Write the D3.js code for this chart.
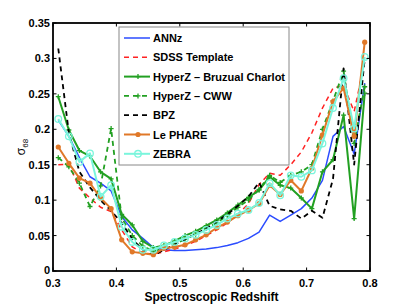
<!DOCTYPE html>
<html><head><meta charset="utf-8">
<script src="https://cdn.jsdelivr.net/npm/d3@7"></script>
<style>
body{margin:0;background:#fff;}
text{font-family:"Liberation Sans",Arial,sans-serif;}
</style></head>
<body><svg id="c" width="409" height="307"></svg>
<script>
// bin centres (30 bins of width 1/60 between 0.3 and 0.8)
const redshift = d3.range(30).map(i => 0.3 + (i + 0.5) / 60);
const annz     = [0.213,0.19,0.16,0.133,0.124,0.113,0.077,0.058,0.046,0.033,0.03,0.029,0.029,0.03,0.031,0.033,0.036,0.04,0.046,0.055,0.079,0.07,0.079,0.088,0.103,0.128,0.19,0.204,0.165,0.265];
const sdss     = [0.15,0.151,0.117,0.103,0.09,0.084,0.058,0.034,0.025,0.024,0.027,0.031,0.036,0.042,0.05,0.058,0.068,0.08,0.095,0.122,0.138,0.135,0.15,0.168,0.195,0.23,0.258,0.262,0.225,0.295];
const hyperzBC = [0.246,0.199,0.17,0.162,0.14,0.13,0.08,0.065,0.042,0.033,0.036,0.042,0.05,0.056,0.064,0.072,0.082,0.093,0.104,0.114,0.133,0.121,0.117,0.103,0.088,0.14,0.157,0.22,0.074,0.251];
const hyperzCWW= [0.16,0.147,0.124,0.091,0.12,0.201,0.075,0.05,0.035,0.028,0.032,0.038,0.045,0.052,0.06,0.068,0.078,0.09,0.1,0.115,0.135,0.125,0.135,0.14,0.15,0.2,0.24,0.282,0.18,0.26];
const bpz      = [0.314,0.195,0.14,0.118,0.1,0.085,0.068,0.045,0.03,0.022,0.03,0.037,0.045,0.052,0.06,0.07,0.08,0.092,0.105,0.125,0.092,0.087,0.085,0.074,0.085,0.075,0.13,0.286,0.15,0.3];
const lephare  = [0.175,0.152,0.131,0.124,0.103,0.088,0.044,0.027,0.025,0.023,0.032,0.034,0.037,0.044,0.051,0.061,0.069,0.078,0.086,0.095,0.121,0.108,0.128,0.113,0.145,0.192,0.239,0.258,0.19,0.323];
const zebra    = [0.2145,0.19,0.154,0.166,0.105,0.121,0.0625,0.041,0.03,0.03,0.036,0.041,0.046,0.051,0.058,0.065,0.074,0.081,0.086,0.096,0.124,0.107,0.135,0.133,0.142,0.18,0.23,0.272,0.201,0.302];
const seriesNames = ["ANNz","SDSS Template","HyperZ \u2013 Bruzual Charlot","HyperZ \u2013 CWW","BPZ","Le PHARE","ZEBRA"];
const xTicks = [0.3,0.4,0.5,0.6,0.7,0.8];
const yTicks = [0,0.05,0.1,0.15,0.2,0.25,0.3,0.35];

const styles = [
  {color:"#2b4cff", width:1.5, dash:null, marker:null},
  {color:"#ff2222", width:1.5, dash:"5,4", marker:null},
  {color:"#22a022", width:2, dash:null, marker:"plus"},
  {color:"#22a022", width:1.8, dash:"5,4", marker:"plus"},
  {color:"#000000", width:1.8, dash:"5,4", marker:null},
  {color:"#e07828", width:2, dash:null, marker:"dot"},
  {color:"#7af5dc", width:2, dash:null, marker:"ring"}
];
const data = [annz,sdss,hyperzBC,hyperzCWW,bpz,lephare,zebra];

const svg = d3.select("#c");
const L=53,R=370,T=23,B=271;
const x = d3.scaleLinear().domain([0.3,0.8]).range([L,R]);
const y = d3.scaleLinear().domain([0,0.35]).range([B,T]);

function drawMarker(g, kind, cx, cy, color){
  if(kind==="plus"){
    g.append("path").attr("d",`M${cx-2.5},${cy}H${cx+2.5}M${cx},${cy-2.5}V${cy+2.5}`)
     .attr("stroke",color).attr("stroke-width",1.3).attr("fill","none");
  } else if(kind==="dot"){
    g.append("circle").attr("cx",cx).attr("cy",cy).attr("r",2.6).attr("fill",color);
  } else if(kind==="ring"){
    g.append("circle").attr("cx",cx).attr("cy",cy).attr("r",3.3).attr("fill","none")
     .attr("stroke",color).attr("stroke-width",1.3);
  }
}

const line = d3.line().x((d,i)=>x(redshift[i])).y(d=>y(d));
const plotG = svg.append("g");
data.forEach((vals,k)=>{
  const s=styles[k];
  plotG.append("path").datum(vals).attr("d",line).attr("fill","none")
    .attr("stroke",s.color).attr("stroke-width",s.width)
    .attr("stroke-dasharray",s.dash).attr("stroke-linejoin","round");
  if(s.marker){
    vals.forEach((v,i)=>drawMarker(plotG,s.marker,x(redshift[i]),y(v),s.color));
  }
});

// axes
const tl = 3.5;
const ax = svg.append("g");
ax.append("rect").attr("x",L).attr("y",T).attr("width",R-L).attr("height",B-T)
  .attr("fill","none").attr("stroke","#000").attr("stroke-width",1.8);
xTicks.forEach(t=>{
  const px=x(t);
  ax.append("line").attr("x1",px).attr("x2",px).attr("y1",B).attr("y2",B-tl).attr("stroke","#000").attr("stroke-width",1);
  ax.append("line").attr("x1",px).attr("x2",px).attr("y1",T).attr("y2",T+tl).attr("stroke","#000").attr("stroke-width",1);
  ax.append("text").attr("x",px).attr("y",B+16).attr("text-anchor","middle")
    .attr("font-size",11).attr("font-weight","bold").text(String(t));
});
yTicks.forEach(t=>{
  const py=y(t);
  ax.append("line").attr("x1",L).attr("x2",L+tl).attr("y1",py).attr("y2",py).attr("stroke","#000").attr("stroke-width",1);
  ax.append("line").attr("x1",R).attr("x2",R-tl).attr("y1",py).attr("y2",py).attr("stroke","#000").attr("stroke-width",1);
  ax.append("text").attr("x",L-3).attr("y",py+(t===0?2.5:4)).attr("text-anchor","end")
    .attr("font-size",11).attr("font-weight","bold").text(String(t));
});
ax.append("text").attr("x",(L+R)/2).attr("y",301).attr("text-anchor","middle")
  .attr("font-size",12).attr("font-weight","bold").text("Spectroscopic Redshift");
const yl = ax.append("text").attr("transform","translate(25,147) rotate(-90)")
  .attr("text-anchor","middle").attr("font-size",12);
yl.append("tspan").text("\u03c3");
yl.append("tspan").attr("font-size",8).attr("dy",3).text("68");

// legend
const lg = svg.append("g");
const lx=119, ly=27, lw=170, lh=138;
lg.append("rect").attr("x",lx).attr("y",ly).attr("width",lw).attr("height",lh)
  .attr("fill","#fff").attr("stroke","#888").attr("stroke-width",1);
seriesNames.forEach((n,k)=>{
  const s=styles[k];
  const cy = 38 + k*19.3;
  lg.append("line").attr("x1",124).attr("x2",150).attr("y1",cy).attr("y2",cy)
    .attr("stroke",s.color).attr("stroke-width",s.width).attr("stroke-dasharray",s.dash);
  if(s.marker) drawMarker(lg,s.marker,138,cy,s.color);
  lg.append("text").attr("x",153).attr("y",cy+4).attr("font-size",11)
    .attr("font-weight","bold").text(n);
});
</script></body></html>
